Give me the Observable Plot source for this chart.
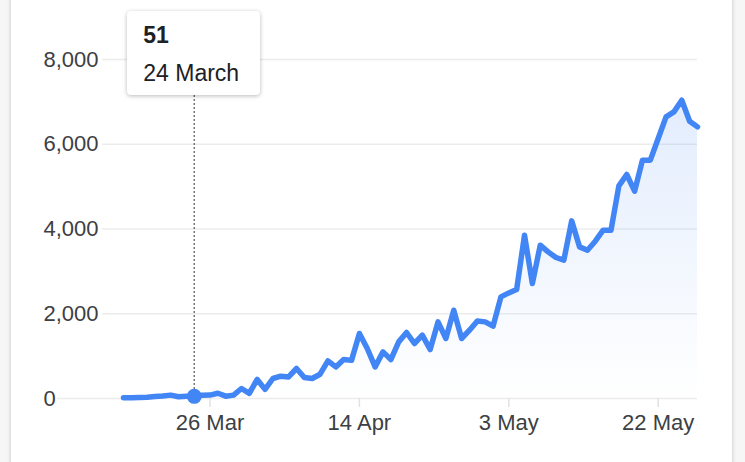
<!DOCTYPE html>
<html>
<head>
<meta charset="utf-8">
<script src="https://cdn.jsdelivr.net/npm/d3@7"></script>
<script src="https://cdn.jsdelivr.net/npm/@observablehq/plot@0.6"></script>
<style>
  html, body { margin: 0; padding: 0; width: 745px; height: 462px; overflow: hidden; background: #f6f6f6; }
  #wrap { position: relative; width: 745px; height: 462px; font-family: "Helvetica Neue", Helvetica, "Liberation Sans", Arial, sans-serif; }
  #card { position: absolute; left: 11px; top: -20px; width: 721px; height: 502px; background: #fff; box-shadow: 0 0 4px rgba(0,0,0,0.22); }
  #chart { position: absolute; left: 0; top: 0; }
  #tip { position: absolute; top: 11px; width: 133px; height: 84px; background: #fff; border-radius: 4px;
         box-shadow: 0 1px 4px rgba(0,0,0,0.28); color: #202124; }
  #tip .v { position: absolute; left: 16px; top: 13px; font-size: 23px; line-height: 23px; font-weight: bold; }
  #tip .d { position: absolute; left: 16px; top: 51px; font-size: 23px; line-height: 23px; white-space: nowrap; }
</style>
</head>
<body>
<div id="wrap">
  <div id="card"></div>
  <div id="chart"></div>
  <div id="tip"><div class="v"></div><div class="d"></div></div>
</div>
<script>
// ---- data ----
const startDate = "2020-03-15";
const endDate = "2020-05-27";
const dailyCases = [
  20, 20, 25, 30, 45, 60, 80, 40, 55, 51,
  75, 80, 125, 55, 80, 236, 120, 450, 215, 472,
  526, 510, 708, 495, 472, 573, 888, 746, 920, 900,
  1534, 1180, 746, 1100, 920, 1336, 1557, 1298, 1494, 1156,
  1808, 1416, 2084, 1416, 1612, 1831, 1808, 1706, 2398, 2492,
  2572, 3854, 2714, 3618, 3460, 3328, 3264, 4191, 3578, 3500,
  3712, 3972, 3972, 5018, 5286, 4892, 5624, 5624, 6136, 6646,
  6764, 7040, 6544, 6410
];
const xTickDates = ["2020-03-26", "2020-04-14", "2020-05-03", "2020-05-22"];
const yTickValues = [0, 2000, 4000, 6000, 8000];
const tipDateStr = "2020-03-24";
const tipValue = 51;
const tipLabel = "24 March";

// ---- build ----
const start = new Date(startDate + "T00:00:00Z");
const end = new Date(endDate + "T00:00:00Z");
const data = dailyCases.map((v, i) => ({ date: d3.utcDay.offset(start, i), value: v }));
const xTicks = xTickDates.map(s => new Date(s + "T00:00:00Z"));
const tipDate = new Date(tipDateStr + "T00:00:00Z");

const blue = "#4285f4";
const textColor = "#3c4043";
const gridColor = "#ececec";

const chart = Plot.plot({
  width: 745,
  height: 462,
  marginLeft: 123,
  marginRight: 48,
  marginTop: 59,
  marginBottom: 64,
  style: { fontFamily: '"Helvetica Neue", Helvetica, "Liberation Sans", Arial, sans-serif', fontSize: "22px", background: "transparent", overflow: "visible" },
  x: { type: "utc", domain: [start, end] },
  y: { domain: [0, 8000] },
  marks: [
    Plot.ruleY(yTickValues.filter(d => d > 0), { stroke: gridColor, strokeWidth: 1.5, insetLeft: -21 }),
    Plot.ruleY([0], { stroke: gridColor, strokeWidth: 1.5, insetLeft: -66 }),
    Plot.axisX(xTicks, { tickFormat: d3.utcFormat("%-d %b"), tickSize: 9, tickPadding: 7, stroke: "#e2e2e2", strokeWidth: 1.5, fill: textColor, fontSize: 22, label: null }),
    Plot.axisY(yTickValues, { tickSize: 0, tickPadding: 0, textAnchor: "start", dx: -80, tickFormat: d3.format(","), fill: textColor, fontSize: 22, label: null }),
    Plot.areaY(data, { x: "date", y: "value", fill: "url(#areaGrad)" }),
    Plot.ruleX([tipDate], { stroke: "#777", strokeWidth: 1.5, strokeDasharray: "2,2" }),
    Plot.lineY(data, { x: "date", y: "value", stroke: blue, strokeWidth: 5.5, strokeLinejoin: "round" }),
    Plot.dot([{ date: tipDate, value: tipValue }], { x: "date", y: "value", r: 7.5, fill: blue, stroke: "none" })
  ]
});

const defs = d3.select(chart).insert("defs", ":first-child");
const grad = defs.append("linearGradient").attr("id", "areaGrad")
  .attr("x1", 0).attr("y1", 0).attr("x2", 0).attr("y2", 1);
grad.append("stop").attr("offset", "0%").attr("stop-color", blue).attr("stop-opacity", 0.15);
grad.append("stop").attr("offset", "100%").attr("stop-color", blue).attr("stop-opacity", 0);

document.getElementById("chart").appendChild(chart);

const tip = document.getElementById("tip");
tip.querySelector(".v").textContent = String(tipValue);
tip.querySelector(".d").textContent = tipLabel;
const cx = chart.scale("x").apply(tipDate);
tip.style.left = (cx - 133 / 2) + "px";
</script>
</body>
</html>
